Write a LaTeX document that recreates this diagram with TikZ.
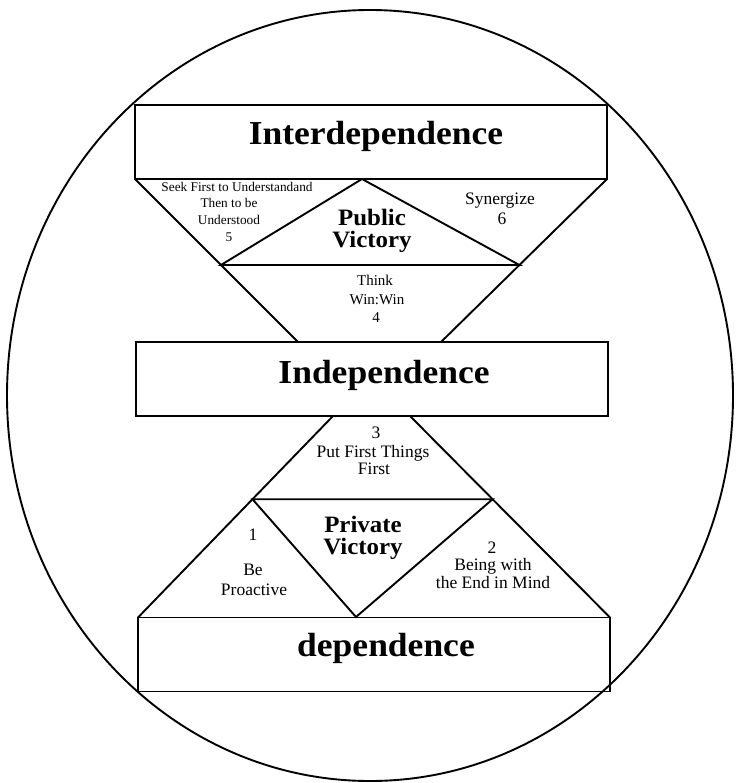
\documentclass[tikz,border=0pt]{standalone}
\usepackage{fontspec}
\setmainfont{Liberation Serif}
\newfontfamily\headfont[FakeStretch=1.06]{Liberation Serif}
\usetikzlibrary{calc}
\begin{document}
\begin{tikzpicture}[x=1pt,y=-1pt,
  rule/.style={line width=1.9pt, line join=miter},
  levelbox/.style={draw, rule, rectangle, inner sep=0pt, outer sep=0pt,
    minimum width=472pt, minimum height=74pt},
  leveltext/.style={font=\headfont\bfseries\fontsize{33.5}{36}\selectfont, anchor=base, inner sep=0pt},
  victorytext/.style={font=\headfont\bfseries\fontsize{23.5}{22}\selectfont, align=center, inner sep=0pt},
  habitlg/.style={font=\fontsize{17.5}{19}\selectfont, anchor=base, inner sep=0pt},
  habitmd/.style={font=\fontsize{15}{17}\selectfont, anchor=base, inner sep=0pt},
  habitsm/.style={font=\fontsize{13.3}{15}\selectfont, anchor=base, inner sep=0pt}]

% canvas
\fill[white] (0,0) rectangle (735,783);
\useasboundingbox (0,0) rectangle (735,783);

% enclosing ellipse
\draw[rule] (370,395.5) ellipse [x radius=363, y radius=385.5];

% the three levels
\node[levelbox] (inter) at (371,142) {};
\node[levelbox] (indep) at (372,379) {};
\node[levelbox] (dep)   at (374,654.5) {};

\node[leveltext] (interT) at (376,145) {Interdependence};
\node[leveltext] (indepT) at (384,383) {Independence};
\node[leveltext] (depT)   at (386,656) {dependence};

% upper funnel: public victory
\coordinate (iL) at (298,342);
\coordinate (iR) at (441,342);
\coordinate (pvL) at ($(inter.south west)!0.5276!(iL)$);
\coordinate (pvR) at ($(inter.south east)!0.5276!(iR)$);
\coordinate (pvT) at (362,179);
\draw[rule] (inter.south west) -- (iL);
\draw[rule] (inter.south east) -- (iR);
\draw[rule] (pvL) -- (pvT) -- (pvR) -- cycle;

% lower funnel: private victory
\coordinate (jL) at (333,416);
\coordinate (jR) at (410,416);
\coordinate (qL) at ($(jL)!0.413!(dep.north west)$);
\coordinate (qR) at ($(jR)!0.413!(dep.north east)$);
\coordinate (qB) at (356,617);
\draw[rule] (jL) -- (dep.north west);
\draw[rule] (jR) -- (dep.north east);
\draw[rule] (qL) -- (qR) -- (qB) -- cycle;

% victory labels
\node[victorytext] (pub) at (372,231) {Public\\Victory};
\node[victorytext] (pri) at (363,537.5) {Private\\Victory};

% habits 5 and 6
\node[habitsm] (h5a) at (237,192) {Seek First to Understandand};
\node[habitsm] (h5b) at (229,208) {Then to be};
\node[habitsm] (h5c) at (229,225) {Understood};
\node[habitsm] (h5d) at (229,242) {5};
\node[habitlg] (h6a) at (500,205) {Synergize};
\node[habitlg] (h6b) at (502,225) {6};

% habit 4
\node[habitmd] (h4a) at (375,285) {Think};
\node[habitmd] (h4b) at (377,304) {Win:Win};
\node[habitmd] (h4c) at (376,322) {4};

% habit 3
\node[habitlg] (h3a) at (376,438) {3};
\node[habitlg] (h3b) at (373,457) {Put First Things};
\node[habitlg] (h3c) at (374,474) {First};

% habits 1 and 2
\node[habitlg] (h1a) at (253,540) {1};
\node[habitlg] (h1b) at (253,575) {Be};
\node[habitlg] (h1c) at (254,595) {Proactive};
\node[habitlg] (h2a) at (492,553) {2};
\node[habitlg] (h2b) at (493,570) {Being with};
\node[habitlg] (h2c) at (493,588) {the End in Mind};

\end{tikzpicture}
\end{document}
